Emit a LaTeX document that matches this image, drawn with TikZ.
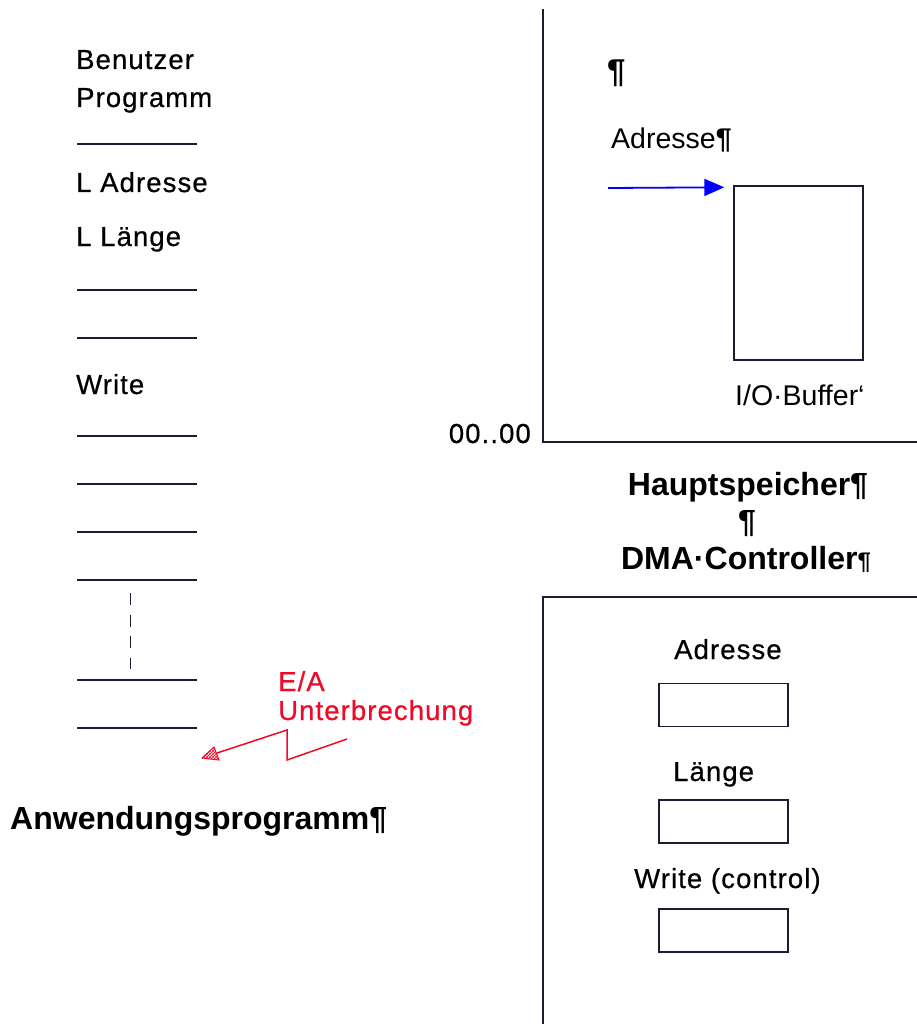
\documentclass[tikz,border=0pt]{standalone}
\usepackage{fontspec}
\setmainfont{Liberation Sans}
\newfontfamily\plotfont[LetterSpace=4,FakeBold=0.6]{Liberation Sans}
\usetikzlibrary{patterns,arrows.meta}
\definecolor{ink}{RGB}{30,28,48}
\definecolor{redink}{RGB}{240,10,40}
\definecolor{blueink}{RGB}{0,0,255}
\begin{document}
\begin{tikzpicture}[x=1pt,y=-1pt,
  lbl/.style={inner sep=0pt, anchor=base west, font=\plotfont\fontsize{27.5}{30}\selectfont, text=black},
  arial/.style={inner sep=0pt, anchor=base west, font=\fontsize{28.5}{32}\selectfont, text=black},
  boldlbl/.style={inner sep=0pt, anchor=base, font=\bfseries\fontsize{32}{36}\selectfont, text=black},
  rule/.style={draw=ink, line width=1.8pt},
  frame/.style={draw=ink, line width=1.8pt},
  regbox/.style={draw=ink, line width=1.4pt, minimum width=129pt, minimum height=43pt, inner sep=0pt},
  redlbl/.style={inner sep=0pt, anchor=base west, font=\plotfont\fontsize{27.5}{30}\selectfont, text=redink}
]
\useasboundingbox[fill=white] (0,0) rectangle (917,1024);

% ---- left column: Benutzer Programm
\node[lbl] (ben) at (76,69) {Benutzer};
\node[lbl] (prog) at (76,107) {Programm};
\draw[rule] (77,144) -- (197,144);
\node[lbl] (ladr) at (76,192) {L Adresse};
\node[lbl] (llen) at (76,246) {L Länge};
\draw[rule] (77,290) -- (197,290);
\draw[rule] (77,338) -- (197,338);
\node[lbl] (write) at (76,394) {Write};
\foreach \yy in {436,484,532,580,680,728} \draw[rule] (77,\yy) -- (197,\yy);
\draw[ink, line width=1.8pt, dash pattern=on 12pt off 9.5pt] (130.5,593) -- (130.5,669);

% ---- red interrupt
\node[redlbl] (ea) at (278,691) {E/A};
\node[redlbl] (unt) at (278,720) {Unterbrechung};
\coordinate (z0) at (347,739);
\coordinate (z1) at (287,760);
\coordinate (z2) at (287,730);
\coordinate (z3) at (217,753);
\coordinate (tip) at (202,758);
\draw[redink, line width=1.5pt, line join=miter] (z0) -- (z1) -- (z2) -- (z3);
\draw[redink, line width=1pt, pattern=crosshatch, pattern color=redink] (tip) -- (219,760) -- (214,747) -- cycle;

\node[boldlbl, anchor=base west] (anw) at (10,829) {Anwendungsprogramm¶};

% ---- main memory
\draw[frame] (543,9) -- (543,442) -- (917,442);
\node[lbl, anchor=base east] (zero) at (531,443) {00..00};
\node[inner sep=0pt, anchor=base west, font=\bfseries\fontsize{33}{36}\selectfont] (pil) at (607,83) {¶};
\node[arial] (adr) at (611,149) {Adresse{\bfseries¶}};
\node[draw=ink, line width=1.4pt, minimum width=129pt, minimum height=174pt, inner sep=0pt] (buf) at (798.5,273) {};
\coordinate (astart) at (608,188);
\draw[blueink, line width=1.8pt, -{Triangle[length=20pt,width=17pt]}] (astart) -- ([xshift=-9pt,yshift=-2pt]buf.north west);
\node[arial] (iob) at (735,405) {I/O·Buffer‘};

\node[boldlbl] (haupt) at (748,495) {Hauptspeicher¶};
\node[boldlbl] (pil2) at (747,532) {¶};
\node[boldlbl] (dma) at (746,569) {DMA·Controller{\fontsize{24}{28}\selectfont¶}};

% ---- DMA controller
\draw[frame] (543,1024) -- (543,597) -- (917,597);
\node[lbl] (dadr) at (674,659) {Adresse};
\node[regbox] (r1) at (723.5,705) {};
\node[lbl] (dlen) at (673,781) {Länge};
\node[regbox] (r2) at (723.5,821.5) {};
\node[lbl] (dwr) at (634,888) {Write (control)};
\node[regbox] (r3) at (723.5,930.5) {};
\end{tikzpicture}
\end{document}
